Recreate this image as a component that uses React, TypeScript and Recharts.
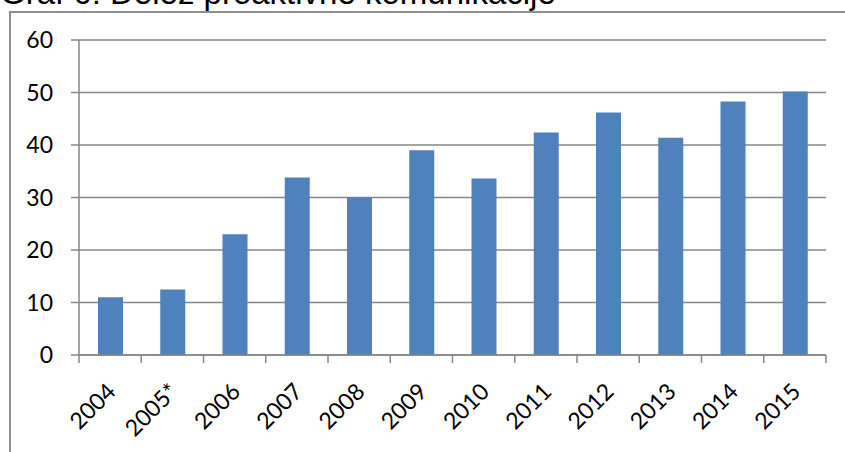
import { Bar, BarChart, CartesianGrid, XAxis, YAxis } from "recharts";

const YEARS = ["2004", "2005*", "2006", "2007", "2008", "2009", "2010", "2011", "2012", "2013", "2014", "2015"];
const SHARE = [11, 12.5, 23, 33.8, 30, 39, 33.6, 42.4, 46.2, 41.4, 48.3, 50.2];
const Y_TICKS = [0, 10, 20, 30, 40, 50, 60];
const TITLE = "Graf 6: Delež proaktivne komunikacije";

const W = 845;
const H = 452;
const Y_AXIS_W = 79;
const RIGHT = 19;
const TICK = 8;
const GRID = "#868686";
const BAND = (W - Y_AXIS_W - RIGHT) / YEARS.length;

const data = YEARS.map((year, i) => ({ year, share: SHARE[i] }));

// Excel-style category axis: tick marks sit between categories, labels at 45°
function YearTick(props: any) {
  const { x, y, payload, index } = props;
  const axisY = y - TICK;
  const left = x - BAND / 2;
  const right = x + BAND / 2;
  return (
    <g>
      <line x1={left} x2={left} y1={axisY} y2={axisY + TICK} stroke={GRID} strokeWidth={1.5} />
      {index === YEARS.length - 1 && (
        <line x1={right} x2={right} y1={axisY} y2={axisY + TICK} stroke={GRID} strokeWidth={1.5} />
      )}
      <text
        x={0}
        y={0}
        transform={`translate(${x + 7},${axisY + 38}) rotate(-45)`}
        textAnchor="end"
        fontSize={23}
        fontFamily="Lato"
        fill="#000"
      >
        {payload.value}
      </text>
    </g>
  );
}

export default function App() {
  return (
    <div
      style={{
        position: "absolute",
        left: 0,
        top: 0,
        width: W,
        height: H,
        overflow: "hidden",
        background: "#fff",
      }}
    >
      <div
        style={{
          position: "absolute",
          left: 0,
          top: -24,
          fontFamily: "'Liberation Sans', Arial, sans-serif",
          fontSize: 33,
          lineHeight: "33px",
          whiteSpace: "nowrap",
          color: "#000",
        }}
      >
        {TITLE}
      </div>
      <div
        style={{
          position: "absolute",
          left: 9,
          top: 11,
          width: W,
          height: H,
          borderTop: "2px solid #8e8e8e",
          borderLeft: "2px solid #8e8e8e",
        }}
      />
      <div style={{ position: "absolute", left: 0, top: 0 }}>
        <BarChart width={W} height={H} data={data} margin={{ top: 40, right: RIGHT, left: 0, bottom: 0 }}>
          <CartesianGrid vertical={false} stroke={GRID} strokeWidth={1.5} />
          <XAxis
            dataKey="year"
            height={H - 355}
            interval={0}
            tickLine={false}
            tickSize={TICK}
            tickMargin={0}
            axisLine={{ stroke: GRID, strokeWidth: 1.5 }}
            tick={<YearTick />}
          />
          <YAxis
            width={Y_AXIS_W}
            domain={[0, 60]}
            ticks={Y_TICKS}
            tickSize={TICK}
            tickMargin={18}
            tickLine={{ stroke: GRID, strokeWidth: 1.5 }}
            axisLine={{ stroke: GRID, strokeWidth: 1.5 }}
            tick={{ fontSize: 23, fontFamily: "Lato", fill: "#000" }}
          />
          <Bar dataKey="share" fill="#4f81bd" barSize={25} isAnimationActive={false} />
        </BarChart>
      </div>
    </div>
  );
}
